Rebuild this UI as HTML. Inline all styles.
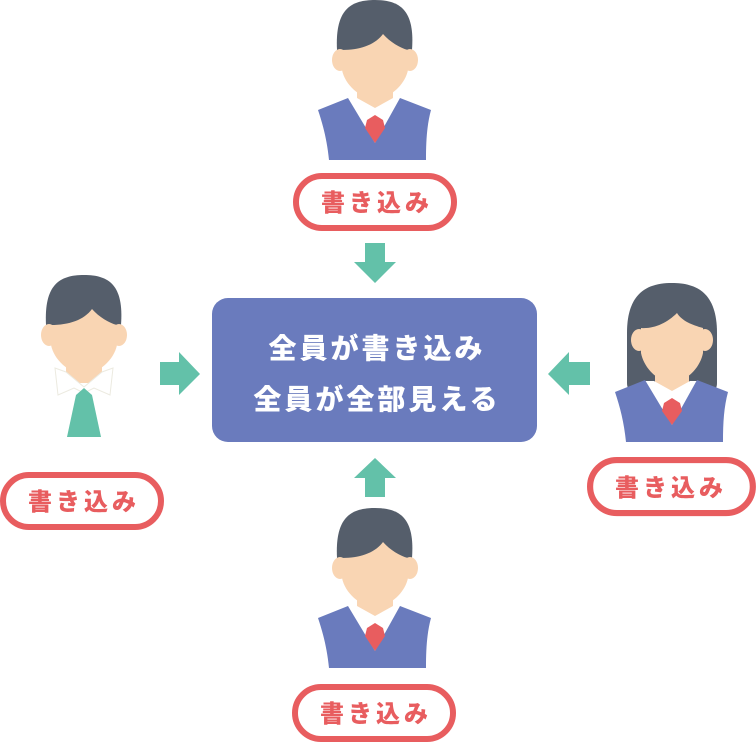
<!DOCTYPE html>
<html><head><meta charset="utf-8"><style>
html,body{margin:0;padding:0;background:#fff;width:756px;height:742px;overflow:hidden}
svg{display:block}
text{font-family:"Liberation Sans","Noto Sans CJK JP",sans-serif;font-weight:900}
</style></head><body>
<svg width="756" height="742" viewBox="0 0 756 742" xmlns="http://www.w3.org/2000/svg">
<defs>
<g id="boy">
  <path d="M-38,50 C-40,10 -25,0 0,0 C25,0 40,10 37,50 Z" fill="#555e6b"/>
  <ellipse cx="-35" cy="60" rx="8" ry="11" fill="#f9d5b3"/>
  <ellipse cx="35" cy="60" rx="8" ry="11" fill="#f9d5b3"/>
  <rect x="-18" y="80" width="36" height="28" fill="#f9d5b3"/>
  <path d="M-33,50 L-33,70 C-30,85 -15,98 0,100 C15,98 30,85 33,70 L33,50 C25,48 15,42 8,34 C0,45 -15,50 -33,50 Z" fill="#f9d5b3"/>
  <path d="M-27,98 L-18,98 L0,108 L18,98 L27,98 L20,150 L-20,150 Z" fill="#fff"/>
</g>
<g id="vest">
  <path d="M-57,110 L-27,98 L0,143 L25,98 L56,110 C52,125 51,140 51,160 L-46,160 C-48,140 -52,125 -57,110 Z" fill="#6a7bbd"/>
  <path d="M-8,120 L0,115 L8,120 L10,128 L0,143 L-10,128 Z" fill="#e85d5f"/>
</g>
<g id="pill">
  <rect x="3" y="3" width="158" height="52" rx="26" fill="#fff" stroke="#e85d5f" stroke-width="6"/>
</g>
</defs>

<g transform="translate(375,0)"><use href="#boy"/><use href="#vest"/></g>
<g transform="translate(293,173)"><use href="#pill"/></g>
<text x="377" y="211" font-size="24" fill="#e85d5f" text-anchor="middle" letter-spacing="4">書き込み</text>
<path d="M365,243 H385 V262 H396 L375,283 L354,262 H365 Z" fill="#63c1a9"/>

<g transform="translate(375,508)"><use href="#boy"/><use href="#vest"/></g>
<g transform="translate(292,684)"><use href="#pill"/></g>
<text x="376" y="722" font-size="24" fill="#e85d5f" text-anchor="middle" letter-spacing="4">書き込み</text>
<path d="M365,497 H385 V478 H396 L375,458 L354,478 H365 Z" fill="#63c1a9"/>

<g transform="translate(84,275)">
  <path d="M-38,50 C-40,10 -25,0 0,0 C25,0 40,10 37,50 Z" fill="#555e6b"/>
  <ellipse cx="-35" cy="60" rx="8" ry="11" fill="#f9d5b3"/>
  <ellipse cx="35" cy="60" rx="8" ry="11" fill="#f9d5b3"/>
  <rect x="-18" y="80" width="36" height="28" fill="#f9d5b3"/>
  <path d="M-33,50 L-33,70 C-30,85 -15,98 0,100 C15,98 30,85 33,70 L33,50 C25,48 15,42 8,34 C0,45 -15,50 -33,50 Z" fill="#f9d5b3"/>
  <path d="M-29,93 L-26,120 L-10,113 L0,118 L10,113 L26,120 L29,93 L18,97 L0,112 L-18,97 Z" fill="#fff" stroke="#eceae0" stroke-width="1"/>
  <path d="M-8,120 L0,113 L8,120 L17,162 L-17,162 Z" fill="#63c1a9"/>
</g>
<g transform="translate(0,472)"><use href="#pill"/></g>
<text x="84" y="510" font-size="24" fill="#e85d5f" text-anchor="middle" letter-spacing="4">書き込み</text>
<path d="M160,362 H179 V352 L200,374 L179,395 V385 H160 Z" fill="#63c1a9"/>

<g transform="translate(672,283)">
  <path d="M-45,50 C-45,10 -25,0 0,0 C25,0 45,10 45,50 L45,100 C45,108 40,110 30,110 L-30,110 C-40,110 -45,108 -45,100 Z" fill="#555e6b"/>
  <ellipse cx="-33" cy="57" rx="8" ry="11" fill="#f9d5b3"/>
  <ellipse cx="33" cy="57" rx="8" ry="11" fill="#f9d5b3"/>
  <rect x="-17" y="80" width="34" height="28" fill="#f9d5b3"/>
  <path d="M-31,45 L-31,70 C-28,85 -15,98 0,100 C15,98 28,85 31,70 L31,45 C20,42 10,38 5,30 C-5,40 -18,46 -31,45 Z" fill="#f9d5b3"/>
  <path d="M-27,98 L-18,98 L0,108 L18,98 L27,98 L20,150 L-20,150 Z" fill="#fff"/>
  <path d="M-57,110 L-27,98 L0,143 L25,98 L56,110 C52,125 51,140 51,160 L-46,160 C-48,140 -52,125 -57,110 Z" fill="#6a7bbd" transform="translate(0,-1)"/>
  <path d="M-8,120 L0,115 L8,120 L10,128 L0,142 L-10,128 Z" fill="#e85d5f"/>
</g>
<g transform="translate(587,457) scale(1.03,1.02)"><use href="#pill"/></g>
<text x="671" y="496" font-size="24" fill="#e85d5f" text-anchor="middle" letter-spacing="4">書き込み</text>
<path d="M590,362 H569 V352 L548,374 L569,395 V385 H590 Z" fill="#63c1a9"/>

<rect x="212" y="298" width="325" height="144" rx="16" fill="#6a7bbd"/>
<text x="377" y="358" font-size="28" fill="#fff" text-anchor="middle" letter-spacing="3">全員が書き込み</text>
<text x="377" y="409" font-size="28" fill="#fff" text-anchor="middle" letter-spacing="3">全員が全部見える</text>
</svg>
</body></html>
